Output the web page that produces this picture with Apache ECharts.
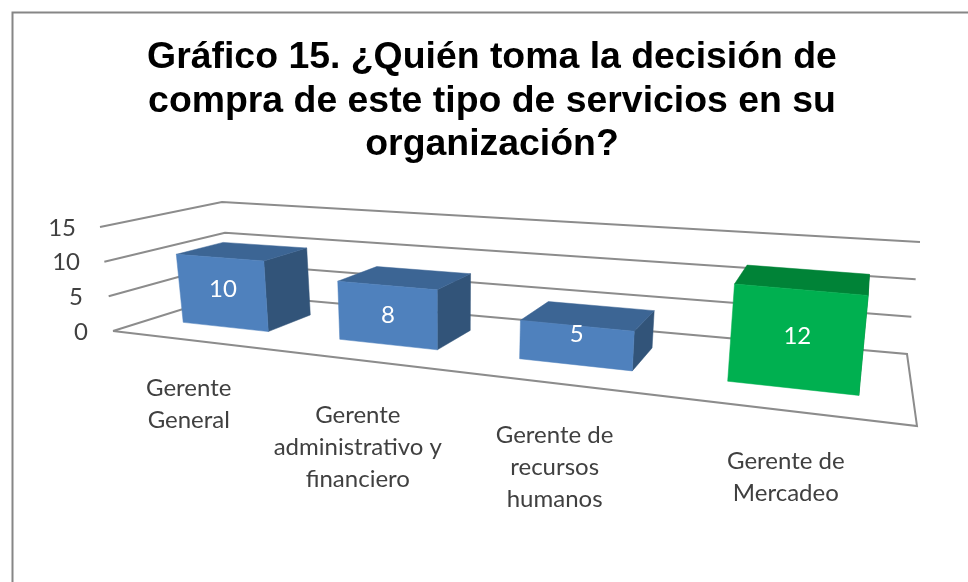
<!DOCTYPE html>
<html>
<head>
<meta charset="utf-8">
<style>html,body{margin:0;padding:0;background:#fff}#c{width:968px;height:582px}</style>
<script src="https://cdn.jsdelivr.net/npm/echarts@6/dist/echarts.min.js"></script>
</head>
<body>
<div id="c"></div>
<script>
var titleText = 'Gráfico 15. ¿Quién toma la decisión de\ncompra de este tipo de servicios en su\norganización?';
var categories = ['Gerente\nGeneral', 'Gerente\nadministrativo y\nfinanciero', 'Gerente de\nrecursos\nhumanos', 'Gerente de\nMercadeo'];
var values = [10, 8, 5, 12];
var tickValues = [0, 5, 10, 15];
var labelNudges = [-3, 0, -11, -3];
var categoryNudges = [0, 7, 4, 3];

// Camera of the pseudo-3D box: floor and ceiling corners [front-left, back-left, back-right, front-right]
var FLOOR = [[113, 331], [231, 294], [907, 354], [917, 426]];
var CEIL = [[100, 227], [222, 202], [920, 242], [930, 294]];
var BAR_HALF = 0.28, BAR_FRONT = 0.29, BAR_BACK = 0.69, LABEL_W = 0, LABEL_DY = 32;
var WARP_A = 0.09, WARP_B = 0;
var GRID = {left: 88, right: 50, top: 228, bottom: 250};

function homography(q) {
  var x0=q[0][0],y0=q[0][1],x1=q[3][0],y1=q[3][1],x2=q[2][0],y2=q[2][1],x3=q[1][0],y3=q[1][1];
  var dx1=x1-x2,dx2=x3-x2,sx=x0-x1+x2-x3,dy1=y1-y2,dy2=y3-y2,sy=y0-y1+y2-y3;
  var det=dx1*dy2-dx2*dy1;
  var g=(sx*dy2-dx2*sy)/det,h=(dx1*sy-sx*dy1)/det;
  var a=x1-x0+g*x1,b=x3-x0+h*x3,d=y1-y0+g*y1,e=y3-y0+h*y3;
  return function(u,w){var k=g*u+h*w+1;return [(a*u+b*w+x0)/k,(d*u+e*w+y0)/k];};
}
var floorAt = homography(FLOOR);
function warp(u) { return u + WARP_A*u*(1-u) + WARP_B; }
function project(u, w, frac) {
  var p = floorAt(u, w);
  var c = [0,1].map(function(i){
    var d = [0,1,2,3].map(function(k){return CEIL[k][i]-FLOOR[k][i];});
    return (1-u)*((1-w)*d[0]+w*d[1]) + u*((1-w)*d[3]+w*d[2]);
  });
  return [p[0]+c[0]*frac, p[1]+c[1]*frac];
}
function frame(params, api) {
  var cs = params.coordSys;
  return {
    u: function(i){return (api.coord([i, 0])[0]-cs.x)/cs.width;},
    frac: function(v){return (api.coord([0, 0])[1]-api.coord([0, v])[1])/cs.height;},
    band: api.size([1, 0])[0]/cs.width
  };
}
var GREY = '#8c8c8c';
function renderGridLine(params, api) {
  var f = frame(params, api), v = api.value(0), h = f.frac(v);
  var pts = [project(0,0,h), project(0,1,h), project(1,1,h)];
  if (v === 0) { pts.push(project(1,0,0)); pts.push(project(0,0,0)); }
  return {type:'polyline', shape:{points:pts}, style:{stroke:GREY, lineWidth:2, fill:null}};
}
function poly(pts, fill) {
  return {type:'polygon', shape:{points:pts}, style:{fill:fill, stroke:fill, lineWidth:0.5}};
}
function renderBar(params, api) {
  var f = frame(params, api), i = api.value(0), v = api.value(1), h = f.frac(v);
  var uc = f.u(i), half = BAR_HALF*f.band, u0 = warp(uc-half), u1 = warp(uc+half);
  var green = i === 3;
  var cFront = green ? '#00b050' : '#4f81bd';
  var cTop = green ? '#008337' : '#3c6594';
  var cSide = green ? '#00702f' : '#325479';
  var a=project(u0,BAR_FRONT,0), b=project(u1,BAR_FRONT,0), c=project(u1,BAR_FRONT,h), d=project(u0,BAR_FRONT,h);
  var e=project(u1,BAR_BACK,0), g=project(u1,BAR_BACK,h), k=project(u0,BAR_BACK,h);
  var cx=(a[0]+b[0]+c[0]+d[0])/4, cy=(a[1]+b[1]+c[1]+d[1])/4+labelNudges[i];
  var anchor = project(warp(uc), LABEL_W, 0);
  return {type:'group', children:[
    poly([b,e,g,c], cSide),
    poly([d,c,g,k], cTop),
    poly([a,b,c,d], cFront),
    {type:'text', style:{x:cx, y:cy, text:String(v), fill:'#fff', font:'24px Lato', align:'center', verticalAlign:'middle'}},
    {type:'text', style:{x:anchor[0], y:anchor[1]+LABEL_DY+categoryNudges[i], text:categories[i], fill:'#404040', font:'24px Lato', lineHeight:32, align:'center', verticalAlign:'top'}}
  ]};
}
var PAD = {0:0, 5:5, 10:8, 15:12};
var chart = echarts.init(document.getElementById('c'));
var rich = {};
tickValues.forEach(function(t){rich['t'+t]={fontFamily:'Lato',fontSize:24,color:'#404040',padding:[0,PAD[t],0,0]};});
chart.setOption({
  animation:false,
  backgroundColor:'#fff',
  title:{text:titleText,left:487,top:31,textAlign:'center',textStyle:{fontFamily:'Liberation Sans',fontWeight:'bold',fontSize:37.4,lineHeight:43.5,color:'#000'}},
  grid:GRID,
  xAxis:{type:'category',data:categories,show:false},
  yAxis:{type:'value',min:0,max:15,interval:5,axisLine:{show:false},axisTick:{show:false},splitLine:{show:false},
    axisLabel:{margin:0,formatter:function(v){return '{t'+v+'|'+v+'}';},rich:rich}},
  graphic:[{type:'polyline',z:-1,shape:{points:[[12.5,582],[12.5,12.5],[968,12.5]]},style:{stroke:'#868686',lineWidth:2,fill:null}}],
  series:[
    {type:'custom',name:'grid',coordinateSystem:'cartesian2d',data:tickValues.map(function(t){return [t];}),encode:{y:0},renderItem:renderGridLine,z:1,silent:true,clip:false},
    {type:'custom',name:'Respuestas',coordinateSystem:'cartesian2d',data:values.map(function(v,i){return [i,v];}),encode:{x:0,y:1},renderItem:renderBar,z:2,silent:true,clip:false}
  ]
});
</script>
</body>
</html>
